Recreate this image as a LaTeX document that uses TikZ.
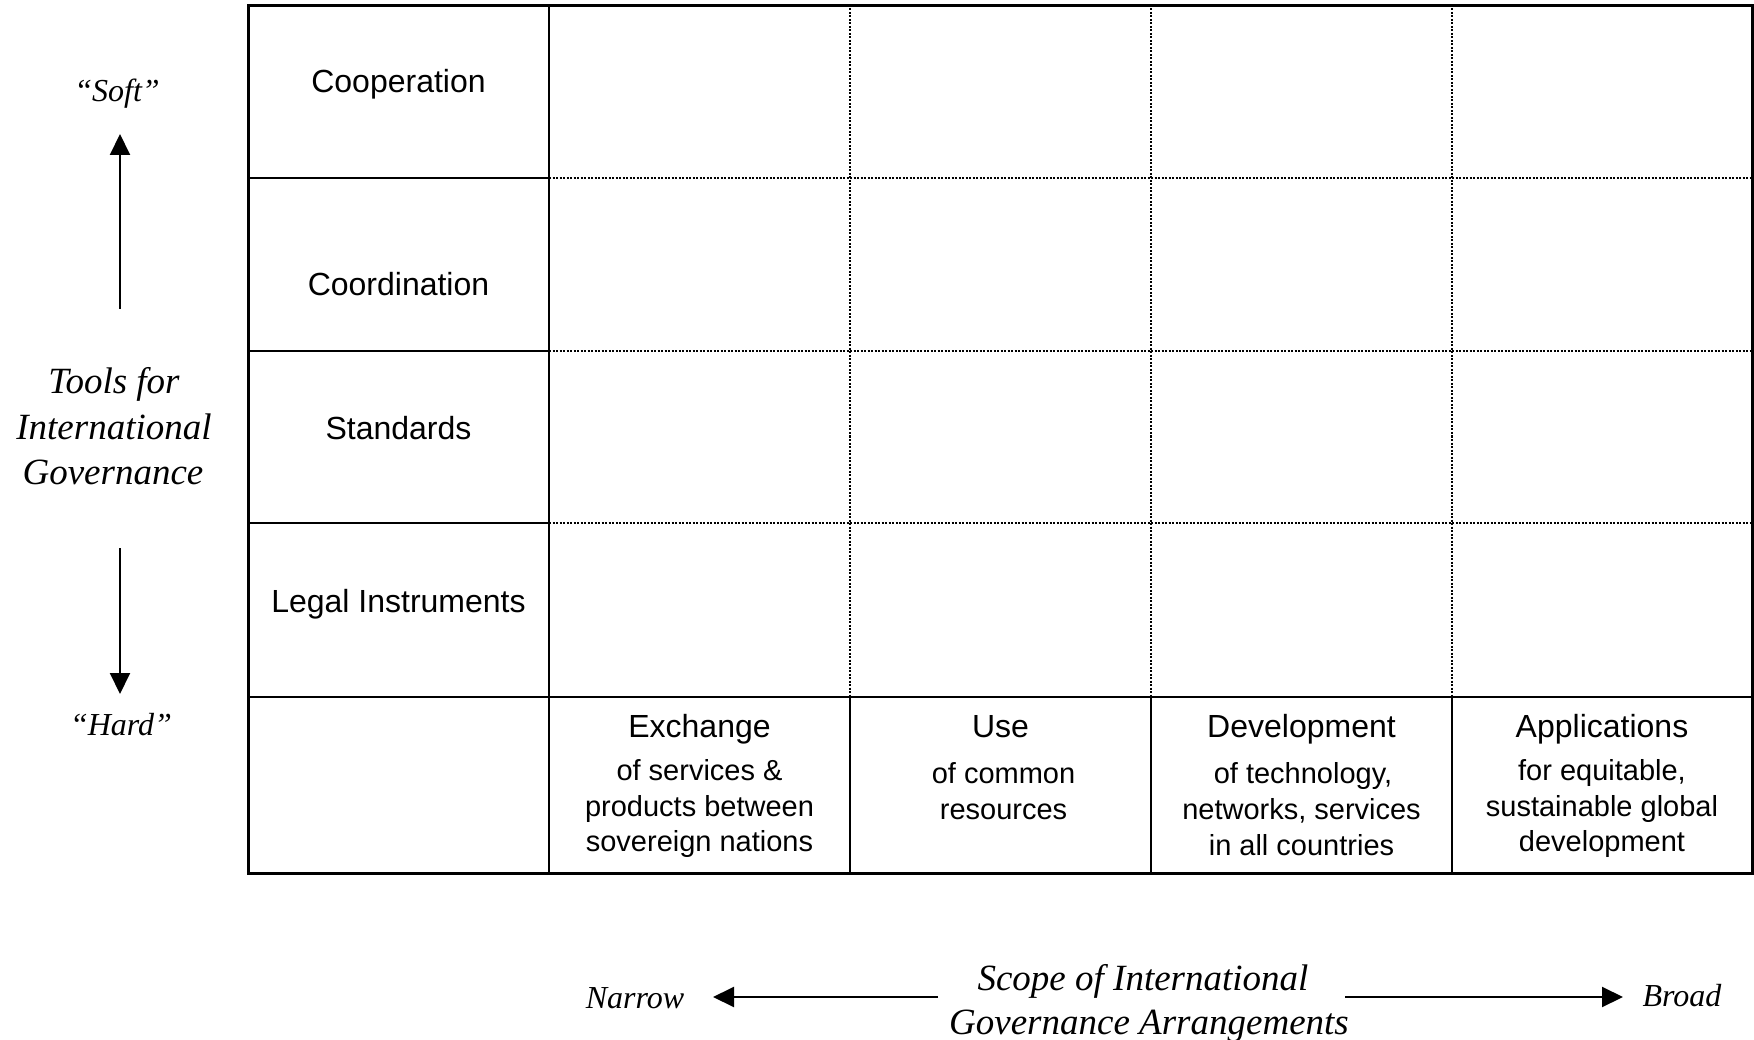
\documentclass[tikz,border=0pt]{standalone}
\usepackage{fontspec}
\setmainfont{Liberation Serif}
\setsansfont{Liberation Sans}
\usetikzlibrary{arrows.meta}
\begin{document}
\begin{tikzpicture}[x=1pt,y=-1pt,
 hd/.style={anchor=base,inner sep=0pt,font=\sffamily\fontsize{32}{38}\selectfont},
 bd/.style={anchor=base,inner sep=0pt,font=\sffamily\fontsize{29}{35}\selectfont},
 big/.style={anchor=base,inner sep=0pt,font=\itshape\fontsize{37}{44}\selectfont},
 sm/.style={anchor=base,inner sep=0pt,font=\itshape\fontsize{32}{38}\selectfont},
 outerl/.style={line width=3pt},
 solidl/.style={line width=2pt},
 dotl/.style={line width=1.6pt,dash pattern=on 2pt off 1.5pt},
 arr/.style={line width=2pt,-{Triangle[length=21pt,width=20pt]}}]
\useasboundingbox (0,0) rectangle (1754,1040);
% grid
\draw[solidl] (549,5) -- (549,874);
\foreach \y in {178,351,523}{
  \draw[solidl] (248,\y) -- (549,\y);
  \draw[dotl] (549,\y) -- (1752,\y);
}
\draw[solidl] (248,697) -- (1752,697);
\foreach \x in {850,1151,1452}{
  \draw[dotl] (\x,5) -- (\x,697);
  \draw[solidl] (\x,697) -- (\x,874);
}
\draw[outerl] (248,5.5) rectangle (1752,873.5);
% row labels
\node[hd] (coop) at (398.5,93) {Cooperation};
\node[hd] (coord) at (398.5,296) {Coordination};
\node[hd] (std) at (398.5,439) {Standards};
\node[hd] (legal) at (398.5,612) {Legal Instruments};
% column labels
\node[hd] (exh) at (699.5,737) {Exchange};
\node[bd] (ex1) at (699.5,780) {of services \&};
\node[bd] (ex2) at (699.5,816) {products between};
\node[bd] (ex3) at (699.5,851) {sovereign nations};
\node[hd] (useh) at (1000.5,737) {Use};
\node[bd] (use1) at (1003.5,783) {of common};
\node[bd] (use2) at (1003.5,819) {resources};
\node[hd] (devh) at (1301.5,737) {Development};
\node[bd] (dev1) at (1303,783) {of technology,};
\node[bd] (dev2) at (1301.5,819) {networks, services};
\node[bd] (dev3) at (1301.5,855) {in all countries};
\node[hd] (apph) at (1602,737) {Applications};
\node[bd] (app1) at (1602,780) {for equitable,};
\node[bd] (app2) at (1602,816) {sustainable global};
\node[bd] (app3) at (1602,851) {development};
% vertical axis
\node[sm] (soft) at (117,102) {“Soft”};
\node[sm] (hard) at (121,735) {“Hard”};
\node[big] (tools1) at (114,394) {Tools for};
\node[big] (tools2) at (114,439) {International};
\node[big] (tools3) at (113,484) {Governance};
\coordinate (upS) at (120,309);
\coordinate (upE) at (120,134);
\coordinate (dnS) at (120,548);
\coordinate (dnE) at (120,694);
\draw[arr] (upS) -- (upE);
\draw[arr] (dnS) -- (dnE);
% horizontal axis
\node[sm] (narrow) at (635,1008) {Narrow};
\node[sm] (broad) at (1682,1006) {Broad};
\node[big] (scope1) at (1143,990) {Scope of International};
\node[big] (scope2) at (1149,1034) {Governance Arrangements};
\coordinate (lS) at (938,997);
\coordinate (lE) at (713,997);
\coordinate (rS) at (1345,997);
\coordinate (rE) at (1623,997);
\draw[arr] (lS) -- (lE);
\draw[arr] (rS) -- (rE);
\end{tikzpicture}
\end{document}
